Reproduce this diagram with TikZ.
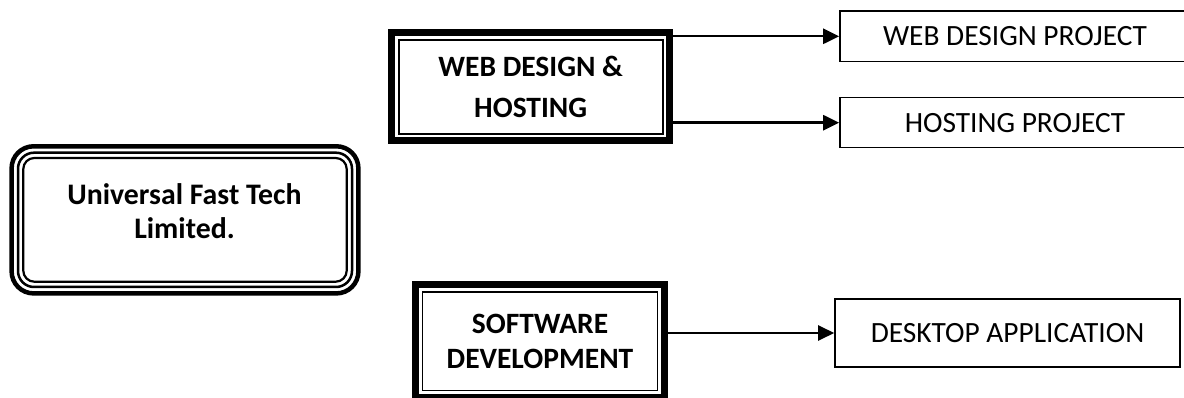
\documentclass[tikz,border=0pt]{standalone}
\usepackage{fontspec}
\setmainfont{Carlito}
\usetikzlibrary{arrows.meta}
\begin{document}
\begin{tikzpicture}[x=1pt,y=-1pt,
  headtxt/.style={font=\bfseries\fontsize{29.8}{34.4}\selectfont, align=center, inner sep=0pt},
  dblbox/.style={font=\bfseries\fontsize{29.5}{40.6}\selectfont, align=center, inner sep=0pt, outer sep=0pt},
  projbox/.style={draw, line width=1.6pt, font=\fontsize{29.4}{32}\selectfont, inner sep=0pt},
  thickline/.style={line width=6.7pt},
  thinline/.style={line width=1.6pt},
  arr/.style={line width=2.4pt, -{Triangle[length=16pt,width=15pt]}}
]
\useasboundingbox (0,0) rectangle (1184,398);

% main company box (triple rounded border)
\draw[line width=4.5pt, rounded corners=22pt] (11.6,146.3) rectangle (358.4,293.4);
\draw[line width=2.5pt, rounded corners=16pt] (18,152.7) rectangle (352,287);
\draw[line width=2.2pt, rounded corners=11pt] (23.3,158) rectangle (346.7,281.7);
\node[headtxt] (main) at (184.5,211) {Universal Fast Tech\\Limited.};

% web design & hosting
\node[dblbox, minimum width=284.7pt, minimum height=114.7pt] (web) at (530.7,86.7) {WEB DESIGN \&\\HOSTING};
\draw[thickline] ([shift={(3.35,3.35)}]web.north west) rectangle ([shift={(-3.35,-3.35)}]web.south east);
\draw[thinline] ([shift={(10.5,10.5)}]web.north west) rectangle ([shift={(-10,-10)}]web.south east);

% software development
\node[dblbox, font=\bfseries\fontsize{29.5}{35}\selectfont, minimum width=256.3pt, minimum height=120pt] (soft) at (540,341) {SOFTWARE\\DEVELOPMENT};
\draw[thickline] ([shift={(3.35,3.35)}]soft.north west) rectangle ([shift={(-3.35,-3.35)}]soft.south east);
\draw[thinline] ([shift={(10.8,10.8)}]soft.north west) rectangle ([shift={(-10.5,-10.5)}]soft.south east);

% project boxes
\node[projbox, minimum width=350pt, minimum height=50.5pt] (wdp) at (1015,36.3) {WEB DESIGN PROJECT};
\node[projbox, minimum width=350pt, minimum height=50pt] (hp) at (1015,122.7) {HOSTING PROJECT};
\node[projbox, minimum width=345pt, minimum height=68pt] (da) at (1007.5,333) {DESKTOP APPLICATION};

% connectors
\draw[arr] (web.east |- wdp.west) -- (wdp.west);
\draw[arr] (web.east |- hp.west) -- (hp.west);
\draw[arr] (soft.east |- da.west) -- (da.west);
\end{tikzpicture}
\end{document}
